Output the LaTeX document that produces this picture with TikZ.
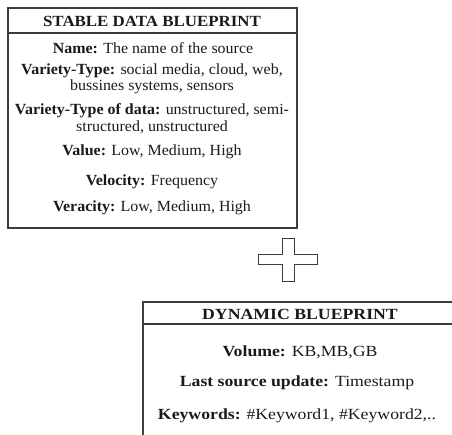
\documentclass[tikz,border=0pt]{standalone}
\usepackage{fontspec}
\setmainfont{Liberation Serif}
\definecolor{ink}{HTML}{1A1A1A}
\definecolor{frame}{HTML}{3C3C3C}
\tikzset{
  bpbox/.style={draw=frame,line width=1.3pt},
  bphead/.style={text=ink,font=\fontsize{15.5}{17}\selectfont\bfseries,xscale=1.09,inner sep=0pt},
  bpline/.style={text=ink,font=\fontsize{15.5}{16.5}\selectfont,xscale=1.03,align=center,inner sep=0pt},
  dbhead/.style={bphead,xscale=1.05},
  dbline/.style={bpline,xscale=1.11},
}

\begin{document}
\begin{tikzpicture}[x=1pt,y=-1pt]
  \useasboundingbox (0,0) rectangle (452,435);
  % stable part
  \draw[bpbox] (8,8) rectangle (297,228);
  \draw[bpbox] (8,33) -- (297,33);
  \node[bphead] (sdbHead) at (152,21) {STABLE DATA BLUEPRINT};
  \node[bpline] (sdbName) at (153,48) {\textbf{Name:} The name of the source};
  \node[bpline] (sdbVariety) at (152,79) {\textbf{Variety-Type:} social media, cloud, web,\\ bussines systems, sensors};
  \node[bpline] (sdbData) at (152,118.5) {\textbf{Variety-Type of data:} unstructured, semi-\\ structured, unstructured};
  \node[bpline] (sdbValue) at (152,152) {\textbf{Value:} Low, Medium, High};
  \node[bpline] (sdbVelocity) at (152,182) {\textbf{Velocity:} Frequency};
  \node[bpline] (sdbVeracity) at (152,208) {\textbf{Veracity:} Low, Medium, High};
  % plus sign
  \draw[bpbox,line width=1pt] (282,239) -- (294,239) -- (294,255) -- (317,255) -- (317,265)
    -- (294,265) -- (294,282) -- (282,282) -- (282,265) -- (258,265) -- (258,255) -- (282,255) -- cycle;
  % dynamic part, runs past the page edge
  \begin{scope}
    \clip (0,0) rectangle (452,435);
    \draw[bpbox] (143,302) rectangle (460,450);
    \draw[bpbox] (143,324) -- (460,324);
  \end{scope}
  \node[dbhead] (dbHead) at (300,314) {DYNAMIC BLUEPRINT};
  \node[dbline] (dbVolume) at (300,352) {\textbf{Volume:} KB,MB,GB};
  \node[dbline] (dbUpdate) at (297,383) {\textbf{Last source update:} Timestamp};
  \node[dbline] (dbKeywords) at (297,416) {\textbf{Keywords:} \#Keyword1, \#Keyword2,..};
\end{tikzpicture}
\end{document}
